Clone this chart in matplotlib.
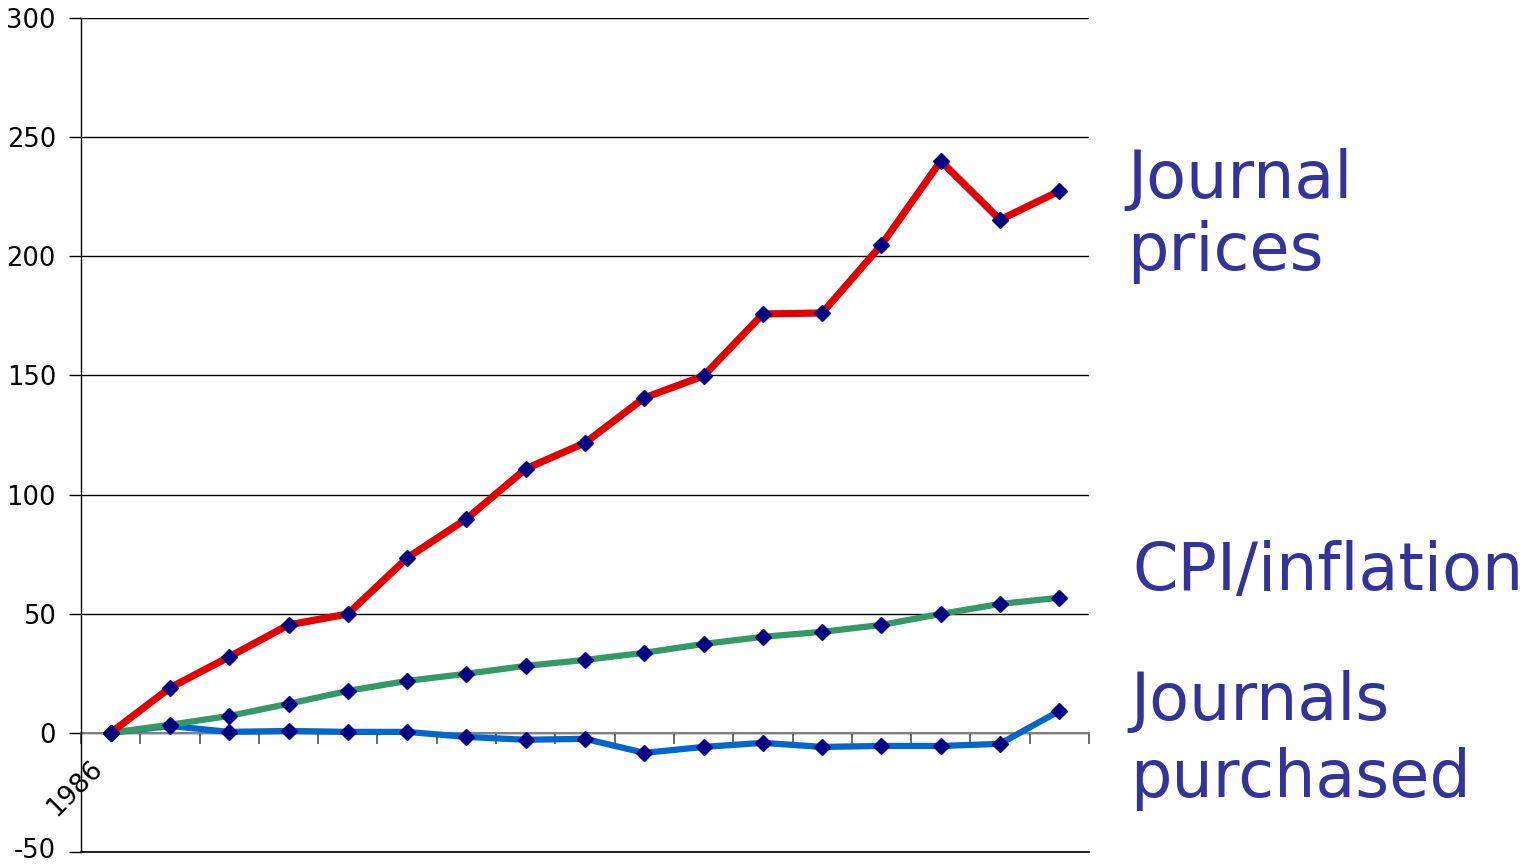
import matplotlib
matplotlib.use("Agg")
import matplotlib.pyplot as plt
import matplotlib.transforms as mtransforms
import numpy as np

years = list(range(1986, 2003))
journal_prices = [0, 18.9, 31.9, 45.3, 49.9, 73.4, 89.8, 110.8, 121.7, 140.6, 149.8,
                  175.8, 176.2, 204.8, 240.0, 215.3, 227.4]
cpi_inflation = [0, 3.4, 7.1, 12.2, 17.6, 21.8, 24.8, 28.1, 30.6, 33.6, 37.3,
                 40.3, 42.4, 45.3, 49.9, 54.1, 56.7]
journals_purchased = [0, 2.9, 0.4, 0.8, 0.4, 0.4, -1.7, -2.9, -2.5, -8.4, -5.9,
                      -4.2, -5.9, -5.5, -5.5, -4.6, 9.2]
y_ticks = [-50, 0, 50, 100, 150, 200, 250, 300]

plt.rcParams['font.family'] = ['DejaVu Sans']
fig = plt.figure(figsize=(15.37, 8.64), dpi=100)
W, H = 1537, 864
ax = fig.add_axes([81 / W, 1 - 852 / H, (1089 - 81) / W, (852 - 18) / H])

x = np.arange(len(years))
marker_kw = dict(marker='D', markersize=8.5, markerfacecolor='#000080', markeredgecolor='#000080')
ax.plot(x, journals_purchased, color='#0066CC', lw=4.5, zorder=3, **marker_kw)
ax.plot(x, cpi_inflation, color='#339966', lw=4.5, zorder=4, **marker_kw)
ax.plot(x, journal_prices, color='#E00000', lw=5.2, zorder=5, **marker_kw)

ax.set_xlim(-0.5, len(years) - 0.5)
ax.set_ylim(-50, 300)
ax.set_yticks(y_ticks)
ax.set_yticklabels([str(v) for v in y_ticks], fontsize=18.5)
ax.yaxis.grid(True, color='black', lw=1)
ax.axhline(-50, color='black', lw=1.2, clip_on=False, zorder=1)
ax.set_axisbelow(True)
ax.tick_params(axis='y', length=9, width=1, pad=9, color='black')

# nudge the bottom label up a little so it stays inside the canvas
lbl = ax.get_yticklabels()[0]
lbl.set_transform(lbl.get_transform() + mtransforms.ScaledTranslation(0, 4 / 100, fig.dpi_scale_trans))

for s in ['top', 'right']:
    ax.spines[s].set_visible(False)
ax.spines['left'].set_color('black')
ax.spines['left'].set_linewidth(1)
ax.spines['bottom'].set_position(('data', 0))
ax.spines['bottom'].set_color('#808080')
ax.spines['bottom'].set_linewidth(1.5)
ax.spines['bottom'].set_zorder(2)
ax.set_xticks(np.arange(-0.5, len(years), 1.0))
ax.set_xticklabels([])
ax.tick_params(axis='x', length=8, width=1.2, color='#505050', direction='out')

ax.annotate(str(years[0]), xy=(0, 0), xycoords='data', xytext=(-12, -32),
            textcoords='offset pixels', rotation=45, rotation_mode='anchor',
            ha='right', va='center', fontsize=19)

txt_color = '#333399'
fs = 47
fig.text(1127 / W, 1 - 198 / H, 'Journal', color=txt_color, fontsize=fs, ha='left', va='baseline')
fig.text(1127 / W, 1 - 270 / H, 'prices', color=txt_color, fontsize=fs, ha='left', va='baseline')
fig.text(1132 / W, 1 - 590 / H, 'CPI/inflation', color=txt_color, fontsize=fs, ha='left', va='baseline')
fig.text(1130 / W, 1 - 720 / H, 'Journals', color=txt_color, fontsize=fs, ha='left', va='baseline')
fig.text(1130 / W, 1 - 797 / H, 'purchased', color=txt_color, fontsize=fs, ha='left', va='baseline')

fig.savefig('out.png', dpi=100)
